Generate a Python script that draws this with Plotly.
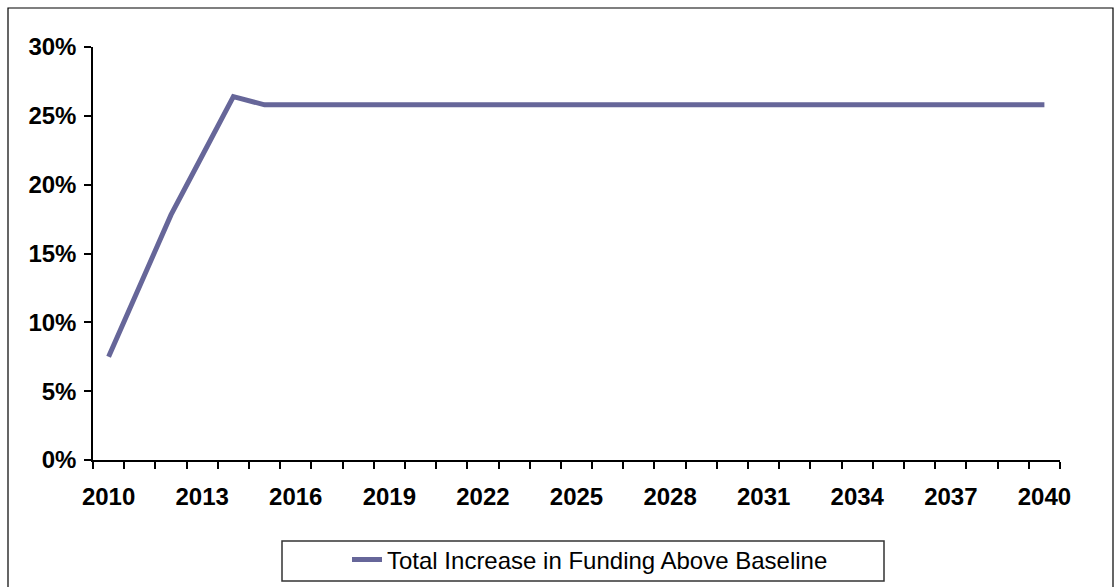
import plotly.graph_objects as go

# Annual share of funding above the baseline
years = list(range(2010, 2041))
increase = [0.075, 0.127, 0.178, 0.221, 0.264] + [0.258] * 26
series_name = "Total Increase in Funding Above Baseline"

label_years = list(range(2010, 2041, 3))
label_text = [str(y) for y in label_years]
boundaries = [y - 0.5 for y in range(2010, 2042)]

W, H = 1114, 587
L, R, T, B = 93, 1060, 47, 460  # plot area in pixels


def px_x(x):
    return (x - L) / (R - L)


def px_y(y):
    return (B - y) / (B - T)


fig = go.Figure()
fig.add_trace(go.Scatter(
    x=years, y=increase, mode="lines", name=series_name,
    line=dict(color="#666699", width=5),
))

axis_font = dict(family="Liberation Sans, Arial, sans-serif", size=24,
                 color="black", weight="bold")

fig.update_layout(
    width=W, height=H,
    margin=dict(l=L, r=W - R, t=T, b=H - B, autoexpand=False),
    paper_bgcolor="white", plot_bgcolor="white",
    showlegend=True,
    legend=dict(
        x=px_x(347), xanchor="left", y=px_y(560), yanchor="middle",
        bgcolor="rgba(0,0,0,0)", borderwidth=0,
        font=dict(family="Liberation Sans, Arial, sans-serif", size=24, color="black"),
    ),
    xaxis=dict(
        range=[2009.5, 2040.5], showgrid=False, zeroline=False,
        showline=True, linecolor="black", linewidth=1.5,
        tickmode="array", tickvals=label_years, ticktext=label_text,
        ticks="", tickfont=axis_font, ticklabelstandoff=14,
        minor=dict(tickmode="array", tickvals=boundaries, ticks="outside",
                   ticklen=7, tickcolor="black", tickwidth=1.5, showgrid=False),
    ),
    yaxis=dict(
        range=[0, 0.30], showgrid=False, zeroline=False,
        showline=True, linecolor="black", linewidth=1.5,
        tickmode="array", tickvals=[0, 0.05, 0.10, 0.15, 0.20, 0.25, 0.30],
        tickformat=".0%", ticks="outside", ticklen=7, tickcolor="black", tickwidth=1.5,
        tickfont=axis_font, ticklabelstandoff=3,
    ),
    shapes=[
        # chart frame
        dict(type="rect", xref="paper", yref="paper",
             x0=px_x(8), x1=px_x(1113), y0=px_y(8), y1=px_y(640),
             line=dict(color="black", width=1.2), fillcolor="rgba(0,0,0,0)", layer="below"),
        # legend box
        dict(type="rect", xref="paper", yref="paper",
             x0=px_x(282), x1=px_x(884), y0=px_y(541), y1=px_y(581),
             line=dict(color="#333333", width=1.5), fillcolor="rgba(0,0,0,0)"),
    ],
)

fig.write_html("out.html")
